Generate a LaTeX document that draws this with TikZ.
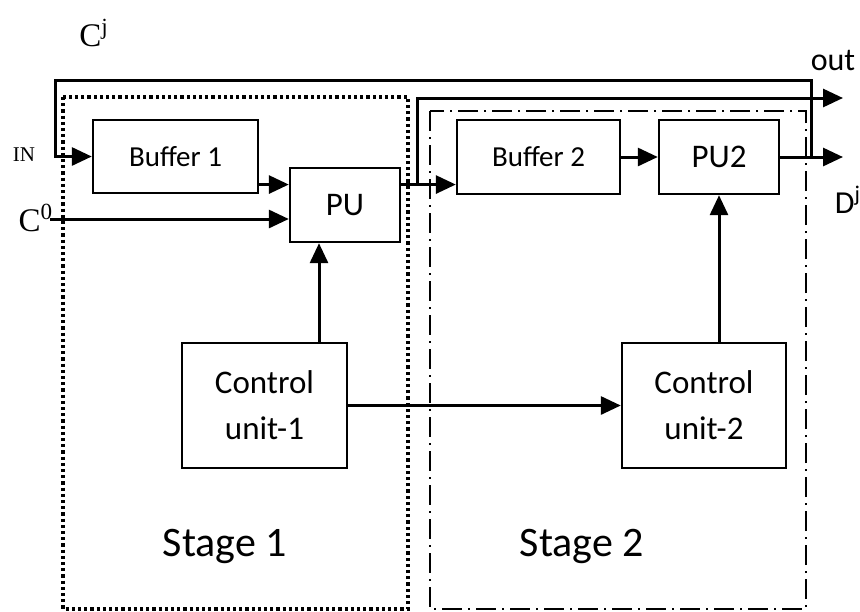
\documentclass[tikz,border=0pt]{standalone}
\usepackage{fontspec}
\setmainfont{Carlito}
\newfontfamily\serifname{Liberation Serif}
\usetikzlibrary{arrows.meta}

\begin{document}
\begin{tikzpicture}
		[x=0.5pt, y=-0.5pt,
		block/.style={draw,line width=1.2pt,inner sep=0pt,font=\fontsize{16.5}{23}\selectfont,align=center},
		wire/.style={line width=1.5pt,-{Triangle[length=10pt,width=9pt]}},
		stagelabel/.style={font=\fontsize{21}{24}\selectfont},
		sig/.style={font=\serifname\fontsize{16.5}{18}\selectfont}]
		\useasboundingbox (0,0) rectangle (860,611);

		% Stage frames
		\draw[line width=1.8pt,dash pattern=on 1.6pt off 1.5pt] (63,97) rectangle (408,609);
		\draw[line width=1pt,dash pattern=on 10pt off 3pt on 1pt off 3pt] (430,111) rectangle (806,609);

		% Blocks
		\node [block,minimum width=82.5pt,minimum height=36.5pt,font=\fontsize{14.5}{17}\selectfont] (buf1) at (175.5,156.5) {Buffer 1};
		\node [block,minimum width=55pt,minimum height=37pt] (pu) at (345,205) {PU};
		\node [block,minimum width=81.5pt,minimum height=37pt,font=\fontsize{14.5}{17}\selectfont] (buf2) at (538.5,157) {Buffer 2};
		\node [block,minimum width=60pt,minimum height=37pt] (pu2) at (719,157) {PU2};
		\node [block,minimum width=82.5pt,minimum height=62.5pt] (cu1) at (264.5,405.5) {Control\\unit-1};
		\node [block,minimum width=82pt,minimum height=62.5pt] (cu2) at (704,405.5) {Control\\unit-2};

		\coordinate (c0) at (50,219);
		\coordinate (fb) at (811,157);
		\coordinate (fbtop) at (55,80);
		\coordinate (outtap) at (417,98);
		\coordinate (outend) at (843,98);
		\coordinate (djend) at (843,157);
		\coordinate (cuup) at (319,0);

		% Stage 1 links
		\draw[wire] (pu.160 -| buf1.east) -- (pu.160);
		\draw[wire] (c0) -- (c0 -| pu.west);
		\draw[wire] (cu1.north -| cuup) -- (pu.south -| cuup);
		\draw[wire] (pu.20) -- (pu.20 -| buf2.west);
		\draw[wire] (pu.20 -| outtap) |- (outend);

		% Stage 2 links
		\draw[wire] (buf2.east) -- (pu2.west);
		\draw[wire] (pu2.south |- cu2.north) -- (pu2.south);
		\draw[wire] (pu2.east) -- (djend);
		\draw[wire] (cu1.east) -- (cu2.west);

		% Feedback C^j
		\draw[wire] (fb) |- (fbtop) |- (buf1.west);

		% Labels
		\node[sig] (cj) at (94,33) {C\textsuperscript{j}};
		\node[sig,font=\serifname\fontsize{10.5}{12}\selectfont] (in) at (24,155) {IN};
		\node[sig] (c0lab) at (36,218) {C\textsuperscript{0}};
		\node[font=\fontsize{16}{18}\selectfont] (outlab) at (833,60) {out};
		\node[font=\fontsize{16}{18}\selectfont] (djlab) at (848,200) {D\textsuperscript{j}};
		\node[stagelabel] (s1) at (225,546) {Stage 1};
		\node[stagelabel] (s2) at (582,546) {Stage 2};
	\end{tikzpicture}
\end{document}
